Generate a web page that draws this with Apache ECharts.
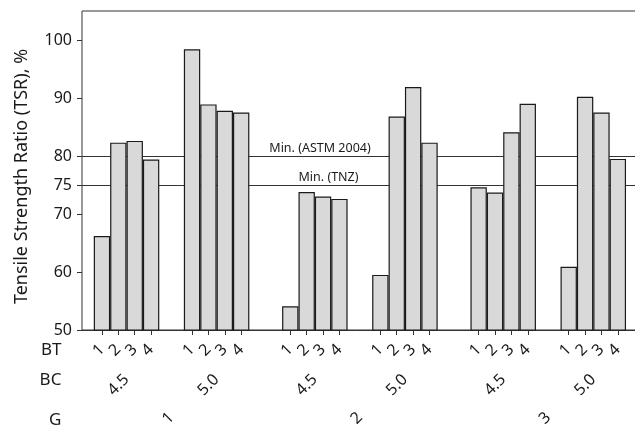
<!DOCTYPE html>
<html>
<head>
<meta charset="utf-8">
<script src="https://cdn.jsdelivr.net/npm/echarts@6/dist/echarts.min.js"></script>
<style>
html,body{margin:0;padding:0;background:#fff;}
#chart{width:635px;height:429px;}
</style>
</head>
<body>
<div id="chart"></div>
<script>
// ---- data ----
const G_LABELS = ['1', '2', '3'];
const BC_LABELS = ['4.5', '5.0'];
const BT_LABELS = ['1', '2', '3', '4'];
// TSR (%) per G: BC 4.5 (BT1..4), then BC 5.0 (BT1..4)
const TSR_G1 = [66.2, 82.3, 82.6, 79.4, 98.4, 88.9, 87.8, 87.5];
const TSR_G2 = [54.1, 73.8, 73.0, 72.6, 59.5, 86.8, 91.9, 82.3];
const TSR_G3 = [74.6, 73.7, 84.1, 89.0, 60.9, 90.2, 87.5, 79.5];
const Y_TICKS = [50, 60, 70, 75, 80, 90, 100];
const REF_VALUES = [80, 75];
const REF_NAMES = ['Min. (ASTM 2004)', 'Min. (TNZ)'];
const Y_TITLE = 'Tensile Strength Ratio (TSR), %';
const ROW_TITLES = ['BT', 'BC', 'G'];

// ---- layout (units of half a bar) ----
const BAR_U = 2, INNER_U = 3, OUTER_U = 4;
const PER_BC = BT_LABELS.length * BAR_U;
const BAND_U = BC_LABELS.length * PER_BC + INNER_U + OUTER_U;
const N_PTS = G_LABELS.length * BAND_U + 1;
const fineCats = Array.from({length: N_PTS}, (_, i) => 'p' + i);
const btText = {}, bcText = {};
G_LABELS.forEach((g, gi) => {
  BC_LABELS.forEach((bc, bi) => {
    const start = gi * BAND_U + OUTER_U / 2 + bi * (PER_BC + INNER_U);
    bcText['p' + (start + PER_BC / 2)] = bc;
    BT_LABELS.forEach((bt, ti) => {
      btText['p' + (start + ti * BAR_U + BAR_U / 2)] = bt;
    });
  });
});
const pct = u => (u / BAND_U * 100) + '%';

const FONT = 'Noto Sans';
const INK = '#1a1a1a';
const rows = [TSR_G1, TSR_G2, TSR_G3];
const series = [];
BC_LABELS.forEach((bc, bi) => {
  if (bi > 0) {
    series.push({
      type: 'bar', name: 'gap', xAxisIndex: 0, yAxisIndex: 0,
      barWidth: pct(INNER_U), barGap: '0%', silent: true,
      data: G_LABELS.map(() => '-'),
      itemStyle: {color: 'transparent'}
    });
  }
  BT_LABELS.forEach((bt, ti) => {
    series.push({
      type: 'bar', name: 'BC ' + bc + ' BT ' + bt,
      xAxisIndex: 0, yAxisIndex: 0,
      barWidth: pct(BAR_U), barGap: '0%', z: 3,
      data: rows.map(r => r[bi * BT_LABELS.length + ti]),
      itemStyle: {color: '#d9d9d9', borderColor: INK, borderWidth: 1.2}
    });
  });
});
series.push({
  type: 'line', xAxisIndex: 3, yAxisIndex: 1, data: [], z: 1, silent: true,
  markLine: {
    silent: true, symbol: 'none', z: 1,
    lineStyle: {color: '#333', width: 1, type: 'solid'},
    label: {color: INK, fontFamily: FONT, fontSize: 12.5, position: 'insideMiddleTop', distance: 1},
    data: REF_VALUES.map((v, i) => ({
      yAxis: v,
      label: {formatter: REF_NAMES[i], padding: [0, i === 0 ? 79 : 62, 0, 0]}
    }))
  }
});

// row title placed below the axis line: third line of a 3-line text centred on the axis
const rowName = (t, dy) => ({
  name: '\n\n' + t, nameLocation: 'start', nameGap: 16,
  nameTextStyle: {color: INK, fontFamily: FONT, fontSize: 17, lineHeight: dy}
});

const chart = echarts.init(document.getElementById('chart'), null, {renderer: 'canvas'});
const lbl = {color: INK, fontFamily: FONT, fontSize: 16};
chart.setOption({
  animation: false,
  backgroundColor: '#fff',
  grid: [
    {left: 77.4, right: -7.4, top: 11, bottom: 99, show: false, outerBoundsMode: 'none', containLabel: false},
    {left: 82, right: -2, top: 11, bottom: 99, show: true, borderColor: '#333', borderWidth: 1,
     backgroundColor: 'transparent', outerBoundsMode: 'none', containLabel: false}
  ],
  xAxis: [
    Object.assign({type: 'category', gridIndex: 0, data: G_LABELS, position: 'bottom',
     axisLine: {show: true, lineStyle: {color: '#333', width: 1}},
     axisTick: {show: false}, splitLine: {show: false},
     axisLabel: Object.assign({rotate: 45, margin: 85, interval: 0}, lbl)}, rowName(ROW_TITLES[2], 90)),
    Object.assign({type: 'category', gridIndex: 0, data: fineCats, boundaryGap: false, position: 'bottom',
     axisLine: {show: false},
     axisTick: {show: true, length: 5, interval: (i, v) => btText[v] !== undefined,
                lineStyle: {color: '#333', width: 1}},
     splitLine: {show: false},
     axisLabel: Object.assign({rotate: 45, margin: 17, interval: (i, v) => btText[v] !== undefined,
                formatter: v => btText[v] || ''}, lbl)}, rowName(ROW_TITLES[0], 20)),
    Object.assign({type: 'category', gridIndex: 0, data: fineCats, boundaryGap: false, position: 'bottom',
     axisLine: {show: false}, axisTick: {show: false}, splitLine: {show: false},
     axisLabel: Object.assign({rotate: 45, margin: 47, interval: (i, v) => bcText[v] !== undefined,
                formatter: v => bcText[v] || ''}, lbl)}, rowName(ROW_TITLES[1], 50)),
    {type: 'value', gridIndex: 1, min: 0, max: 1, show: false}
  ],
  yAxis: [
    {type: 'value', gridIndex: 0, min: 50, max: 105, show: false, splitLine: {show: false}},
    {type: 'value', gridIndex: 1, min: 50, max: 105,
     axisLine: {show: false},
     axisTick: {show: true, length: 5, customValues: Y_TICKS, lineStyle: {color: '#333', width: 1}},
     axisLabel: Object.assign({margin: 10, customValues: Y_TICKS}, lbl),
     splitLine: {show: false},
     name: Y_TITLE, nameLocation: 'middle', nameGap: 51,
     nameTextStyle: Object.assign({padding: [0, 12, 0, 0]}, lbl, {fontSize: 18})}
  ],
  series: series
});
</script>
</body>
</html>
